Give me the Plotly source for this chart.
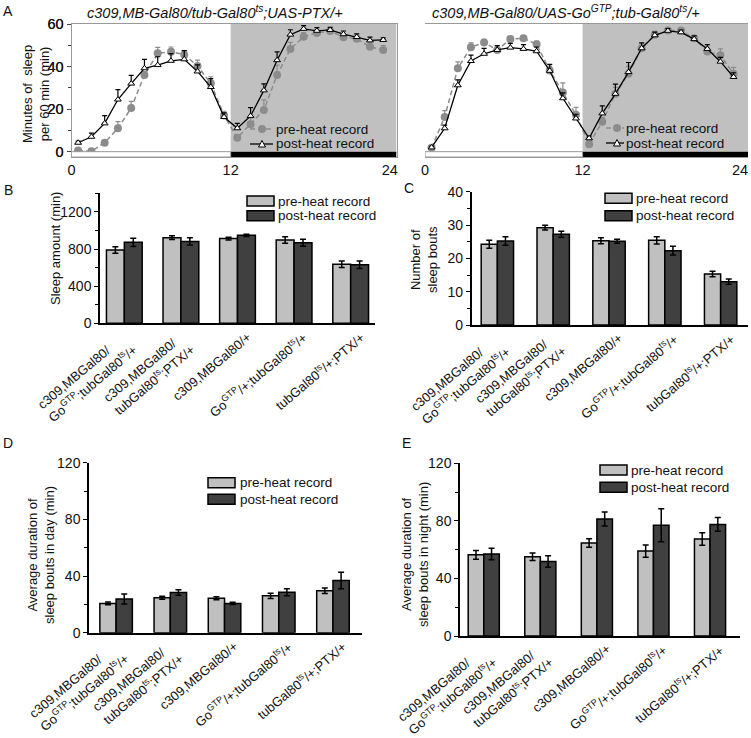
import plotly.graph_objects as go

W, H = 751, 738
FONT = "Liberation Sans, Arial, sans-serif"
TXT = "#111111"

# ---------------- data ----------------
hours = [0.5, 1.5, 2.5, 3.5, 4.5, 5.5, 6.5, 7.5, 8.5, 9.5, 10.5, 11.5,
         12.5, 13.5, 14.5, 15.5, 16.5, 17.5, 18.5, 19.5, 20.5, 21.5, 22.5, 23.5]

ptx_pre = [0.6, 0.2, 4.2, 11.0, 20.5, 36.0, 46.2, 47.0, 45.6, 40.3, 32.1, 17.0,
           6.5, 12.9, 19.6, 36.0, 48.3, 54.0, 55.8, 56.7, 53.8, 53.1, 49.3, 47.8]
ptx_pre_err = [0.5, 0.5, 1.0, 3.1, 3.1, 1.6, 2.8, 2.2, 1.9, 2.7, 3.1, 2.0,
               1.5, 3.0, 4.7, 4.7, 3.1, 2.0, 1.5, 1.0, 1.5, 1.5, 2.0, 2.0]
ptx_post = [4.2, 7.0, 13.3, 24.5, 32.0, 39.2, 40.7, 42.7, 43.4, 37.7, 30.4, 16.3,
            11.0, 16.8, 28.8, 43.0, 55.0, 57.7, 56.8, 57.2, 55.2, 53.9, 52.3, 52.5]
ptx_post_err = [0.8, 1.7, 3.6, 4.7, 3.9, 4.2, 3.9, 3.4, 4.1, 3.1, 3.9, 1.9,
                2.3, 3.9, 3.1, 3.9, 2.3, 1.5, 1.5, 1.2, 1.5, 1.5, 1.5, 1.0]

go_pre = [1.8, 16.3, 39.2, 49.1, 51.3, 47.8, 52.9, 53.3, 50.5, 38.2, 27.8, 17.3,
          3.5, 14.1, 27.2, 36.6, 48.6, 55.0, 57.0, 57.0, 53.3, 47.1, 45.3, 36.6]
go_pre_err = [0.5, 3.0, 3.0, 2.0, 1.5, 1.0, 1.0, 1.0, 1.5, 2.0, 4.5, 3.5,
              1.0, 2.0, 3.0, 3.5, 2.0, 1.5, 1.0, 1.0, 1.0, 2.0, 3.0, 3.0]
go_post = [2.0, 11.0, 31.2, 42.6, 46.0, 47.8, 48.9, 48.3, 47.2, 38.0, 25.1, 15.6,
           6.3, 18.0, 27.2, 37.4, 48.6, 54.7, 56.8, 56.1, 52.9, 48.3, 42.3, 35.1]
go_post_err = [0.5, 1.5, 2.5, 2.8, 2.5, 2.0, 2.0, 2.0, 2.0, 3.0, 2.5, 2.0,
               1.0, 3.5, 4.5, 4.5, 2.5, 1.5, 1.0, 1.0, 1.5, 2.0, 2.0, 2.0]

hour_ticks = [0, 12, 24]

genotypes = [
    "c309,MBGal80/<br>Go<sup>GTP</sup>;tubGal80<sup>ts</sup>/+",
    "c309,MBGal80/<br>tubGal80<sup>ts</sup>;PTX/+",
    "c309,MBGal80/+",
    "Go<sup>GTP</sup>/+;tubGal80<sup>ts</sup>/+",
    "tubGal80<sup>ts</sup>/+;PTX/+",
]
geno_pos = [0, 1, 2, 3, 4]

amount_pre = [790, 922, 912, 897, 635]
amount_pre_err = [35, 20, 15, 35, 35]
amount_post = [872, 882, 947, 867, 630]
amount_post_err = [45, 40, 12, 38, 40]

bouts_pre = [24.2, 29.2, 25.3, 25.4, 15.3]
bouts_pre_err = [1.2, 0.7, 0.9, 1.1, 0.8]
bouts_post = [25.2, 27.2, 25.1, 22.3, 13.0]
bouts_post_err = [1.3, 0.9, 0.6, 1.3, 0.8]

day_pre = [20.7, 24.7, 24.3, 26.0, 29.6]
day_pre_err = [1.0, 1.0, 1.0, 1.8, 2.0]
day_post = [23.8, 28.4, 20.7, 28.6, 36.8]
day_post_err = [3.5, 2.0, 0.8, 2.5, 5.8]

night_pre = [56.4, 55.1, 64.6, 59.0, 67.4]
night_pre_err = [3.0, 2.6, 3.0, 4.3, 4.3]
night_post = [56.9, 51.8, 81.3, 77.0, 77.5]
night_post_err = [4.0, 4.0, 4.8, 11.5, 4.8]

# ---------------- styling ----------------
GREY_PT = "#8c8c8c"
SHADE = "#c0c0c0"
LIGHT = "#c0c0c0"
DARK = "#404040"


def px(x):
    return x / W


def py(y):
    return 1 - y / H


fig = go.Figure()
shapes = []
annotations = []


def ann(text, x, y, size=13.5, xanchor="center", yanchor="middle", angle=0, **kw):
    annotations.append(dict(text=text, x=px(x), y=py(y), xref="paper", yref="paper",
                            xanchor=xanchor, yanchor=yanchor, showarrow=False,
                            textangle=angle, font=dict(family=FONT, size=size, color=TXT), **kw))


# ---------------- panel A ----------------
A_XMAX = [24.5, 24.6]
for k, (pre, pre_e, post, post_e) in enumerate([
        (ptx_pre, ptx_pre_err, ptx_post, ptx_post_err),
        (go_pre, go_pre_err, go_post, go_post_err)]):
    xa = "x" if k == 0 else "x2"
    ya = "y" if k == 0 else "y2"
    zeros = [0] * len(hours)
    fig.add_trace(go.Scatter(
        x=hours, y=pre, mode="lines+markers", xaxis=xa, yaxis=ya, showlegend=False,
        name="pre-heat record",
        line=dict(color=GREY_PT, width=1.5, dash="5px,3px"),
        marker=dict(symbol="circle", size=8, color=GREY_PT),
        error_y=dict(type="data", array=pre_e, arrayminus=zeros, symmetric=False,
                     color=GREY_PT, thickness=1.2, width=2.5)))
    fig.add_trace(go.Scatter(
        x=hours, y=post, mode="lines+markers", xaxis=xa, yaxis=ya, showlegend=False,
        name="post-heat record",
        line=dict(color="black", width=1.3),
        marker=dict(symbol="triangle-up", size=6, color="white",
                    line=dict(color="black", width=1)),
        error_y=dict(type="data", array=post_e, arrayminus=zeros, symmetric=False,
                     color="black", thickness=1.2, width=2.5)))
    xmax = A_XMAX[k]
    shapes.append(dict(type="rect", xref=xa, yref=ya, x0=12, x1=xmax, y0=0, y1=60,
                       fillcolor=SHADE, line=dict(width=0), layer="below"))
    shapes.append(dict(type="rect", xref=xa, yref=ya, x0=12, x1=xmax, y0=-2.5, y1=0,
                       fillcolor="black", line=dict(width=0)))
    shapes.append(dict(type="rect", xref=xa, yref=ya, x0=0, x1=12, y0=-2.5, y1=0,
                       fillcolor="white", line=dict(color="#999999", width=1)))

A_Y = [py(157), py(24)]
axA = dict(showgrid=False, zeroline=False, showline=True, mirror=True,
           linecolor="#999999", linewidth=1, automargin=False,
           tickfont=dict(family=FONT, size=14.5, color=TXT))
yA = dict(axA, domain=A_Y, range=[-2.5, 60], tickvals=[0, 20, 40, 60],
          ticks="outside", ticklen=4, tickcolor="#444444",
          minor=dict(dtick=10, ticks="outside", ticklen=3, tickcolor="#444444"))
fig.update_layout(
    xaxis=dict(axA, domain=[px(71.5), px(396.5)], range=[0, A_XMAX[0]],
               tickvals=hour_ticks, ticks=""),
    yaxis=dict(yA),
    xaxis2=dict(axA, domain=[px(425), px(748)], range=[0, A_XMAX[1]],
                tickvals=hour_ticks, ticks=""),
    yaxis2=dict(yA),
)

# titles
ann("<i>c309,MB-Gal80/tub-Gal80<sup>ts</sup>;UAS-PTX/+</i>", 215, 12, size=14.5)
ann("<i>c309,MB-Gal80/UAS-Go<sup>GTP</sup>;tub-Gal80<sup>ts</sup>/+</i>", 566, 12, size=14.5)
ann("Minutes of  sleep<br>per 60 min (min)", 36, 94, size=13, angle=-90)


# legends for A
def line_legend(x0, x1, cx, y_pre, y_post, tx):
    shapes.append(dict(type="line", xref="paper", yref="paper", x0=px(x0), x1=px(x1),
                       y0=py(y_pre), y1=py(y_pre),
                       line=dict(color=GREY_PT, width=1.5, dash="5px,3px")))
    shapes.append(dict(type="circle", xref="paper", yref="paper",
                       x0=px(cx - 4), x1=px(cx + 4), y0=py(y_pre + 4), y1=py(y_pre - 4),
                       fillcolor=GREY_PT, line=dict(width=0)))
    shapes.append(dict(type="line", xref="paper", yref="paper", x0=px(x0), x1=px(x1),
                       y0=py(y_post), y1=py(y_post), line=dict(color="black", width=1.3)))
    path = (f"M {px(cx - 3.5)},{py(y_post + 3)} L {px(cx + 3.5)},{py(y_post + 3)} "
            f"L {px(cx)},{py(y_post - 3.5)} Z")
    shapes.append(dict(type="path", xref="paper", yref="paper", path=path,
                       fillcolor="white", line=dict(color="black", width=1)))
    ann("pre-heat record", tx, y_pre, size=13.5, xanchor="left")
    ann("post-heat record", tx, y_post, size=13.5, xanchor="left")


line_legend(250, 273, 262, 129, 144, 274)
line_legend(606, 624, 617, 128, 143, 624)

# ---------------- bar panels ----------------
bar_panels = [
    (3, amount_pre, amount_pre_err, amount_post, amount_post_err, 0.316,
     (100, 375), (193.3, 323.3), [-0.43, 4.43], [0, 1400], 400, 200),
    (4, bouts_pre, bouts_pre_err, bouts_post, bouts_post_err, 0.29,
     (471.7, 748), (191.7, 325), [-0.46, 4.49], [0, 40], 10, 5),
    (5, day_pre, day_pre_err, day_post, day_post_err, 0.30,
     (89, 361.7), (462.7, 632.7), [-0.5, 4.53], [0, 120], 40, 20),
    (6, night_pre, night_pre_err, night_post, night_post_err, 0.275,
     (460, 740), (463.3, 636), [-0.42, 4.53], [0, 120], 40, 20),
]

for (n, pre, pre_e, post, post_e, w, xd, yd, xr, yr, dt, mdt) in bar_panels:
    for vals, errs, col, off, nm in [(pre, pre_e, LIGHT, -w, "pre-heat record"),
                                     (post, post_e, DARK, 0, "post-heat record")]:
        fig.add_trace(go.Bar(
            x=geno_pos, y=vals, width=w, offset=off, name=nm, showlegend=False,
            xaxis=f"x{n}", yaxis=f"y{n}",
            marker=dict(color=col, line=dict(color="black", width=1.5)),
            error_y=dict(type="data", array=errs, color="black", thickness=1.5, width=3)))
    fig.layout[f"xaxis{n}"] = dict(
        domain=[px(xd[0]), px(xd[1])], range=xr, showgrid=False, zeroline=False,
        showticklabels=False, ticks="", showline=True, linecolor="black", linewidth=2,
        anchor=f"y{n}", automargin=False)
    fig.layout[f"yaxis{n}"] = dict(
        domain=[py(yd[1]), py(yd[0])], range=yr, showgrid=False, zeroline=False,
        showline=True, linecolor="black", linewidth=1.5, dtick=dt, tick0=0,
        ticks="outside", ticklen=4, tickcolor="black", tickwidth=1.2,
        minor=dict(dtick=mdt, ticks="outside", ticklen=3, tickcolor="black"),
        tickfont=dict(family=FONT, size=14, color=TXT), anchor=f"x{n}",
        automargin=False)
    for i, lab in zip(geno_pos, genotypes):
        annotations.append(dict(
            text=lab, x=i, xref=f"x{n}", y=0, yref=f"y{n} domain", xanchor="right",
            yanchor="top", textangle=-40, xshift=19, yshift=-3, align="left",
            showarrow=False, font=dict(family=FONT, size=13, color=TXT)))


def bar_legend(x0, y_pre, y_post, tx):
    for y, col, label in [(y_pre, LIGHT, "pre-heat record"),
                          (y_post, DARK, "post-heat record")]:
        shapes.append(dict(type="rect", xref="paper", yref="paper",
                           x0=px(x0), x1=px(x0 + 27), y0=py(y + 5), y1=py(y - 5),
                           fillcolor=col, line=dict(color="black", width=1.5)))
        ann(label, tx, y, size=13.5, xanchor="left")


bar_legend(247, 201, 215.7, 276)
bar_legend(605, 198.3, 215.7, 634)
bar_legend(208, 482.7, 499.3, 238)
bar_legend(600, 470, 487.3, 629)

# y-axis titles for bar panels
ann("Sleep amount (min)", 55, 248, size=13, angle=-90)
ann("Number of<br>sleep bouts", 424, 260, size=13, angle=-90)
ann("Average duration of<br>sleep bouts in day (min)", 41, 555, size=13, angle=-90)
ann("Average duration of<br>sleep bouts in night (min)", 415, 555, size=13, angle=-90)

# panel letters
for letter, x, y in [("A", 8, 11), ("B", 8, 190), ("C", 409, 188),
                     ("D", 8, 443), ("E", 406, 443)]:
    ann(letter, x, y, size=14)

fig.update_layout(
    width=W, height=H, margin=dict(l=0, r=0, t=0, b=0, autoexpand=False),
    paper_bgcolor="white", plot_bgcolor="white", barmode="overlay",
    showlegend=False, shapes=shapes, annotations=annotations,
    font=dict(family=FONT, color=TXT),
)

fig.write_html("out.html", config={"displayModeBar": False},
               post_script="document.body.style.margin='0';"
                           "document.body.style.overflow='hidden';")
